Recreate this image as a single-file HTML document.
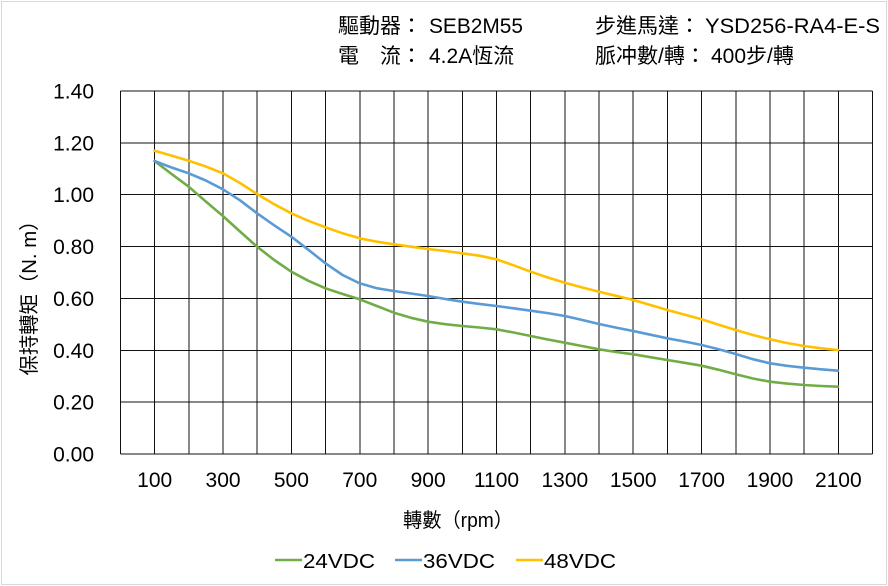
<!DOCTYPE html>
<html>
<head>
<meta charset="utf-8">
<style>
html,body{margin:0;padding:0;background:#fff;}
svg{display:block;}
.t{font-family:"Liberation Sans","Noto Sans CJK TC",sans-serif;fill:#000;}
</style>
</head>
<body>
<svg width="888" height="586" viewBox="0 0 888 586" xmlns="http://www.w3.org/2000/svg">
<rect x="0" y="0" width="888" height="586" fill="#fff"/>
<rect x="1.5" y="1.5" width="885" height="583" fill="none" stroke="#d9d9d9" stroke-width="1"/>

<!-- header -->
<g class="t" font-size="21">
<text x="338" y="33">驅動器：</text>
<text x="429" y="33" textLength="94" lengthAdjust="spacingAndGlyphs">SEB2M55</text>
<text x="338" y="63">電</text>
<text x="380" y="63">流：</text>
<text x="429" y="63">4.2A恆流</text>
<text x="595" y="33">步進馬達：</text>
<text x="705" y="33" textLength="175" lengthAdjust="spacingAndGlyphs">YSD256-RA4-E-S</text>
<text x="595" y="63">脈冲數/轉：</text>
<text x="711" y="63">400步/轉</text>
</g>

<!-- grid -->
<g stroke="#111" stroke-width="1" shape-rendering="crispEdges">
<line x1="120.5" y1="91" x2="872.5" y2="91"/>
<line x1="120.5" y1="142.86" x2="872.5" y2="142.86"/>
<line x1="120.5" y1="194.71" x2="872.5" y2="194.71"/>
<line x1="120.5" y1="246.57" x2="872.5" y2="246.57"/>
<line x1="120.5" y1="298.43" x2="872.5" y2="298.43"/>
<line x1="120.5" y1="350.29" x2="872.5" y2="350.29"/>
<line x1="120.5" y1="402.14" x2="872.5" y2="402.14"/>
<line x1="120.5" y1="454" x2="872.5" y2="454"/>
<line x1="120.5" y1="91" x2="120.5" y2="454"/>
<line x1="154.68" y1="91" x2="154.68" y2="454"/>
<line x1="188.86" y1="91" x2="188.86" y2="454"/>
<line x1="223.05" y1="91" x2="223.05" y2="454"/>
<line x1="257.23" y1="91" x2="257.23" y2="454"/>
<line x1="291.41" y1="91" x2="291.41" y2="454"/>
<line x1="325.59" y1="91" x2="325.59" y2="454"/>
<line x1="359.77" y1="91" x2="359.77" y2="454"/>
<line x1="393.95" y1="91" x2="393.95" y2="454"/>
<line x1="428.14" y1="91" x2="428.14" y2="454"/>
<line x1="462.32" y1="91" x2="462.32" y2="454"/>
<line x1="496.5" y1="91" x2="496.5" y2="454"/>
<line x1="530.68" y1="91" x2="530.68" y2="454"/>
<line x1="564.86" y1="91" x2="564.86" y2="454"/>
<line x1="599.05" y1="91" x2="599.05" y2="454"/>
<line x1="633.23" y1="91" x2="633.23" y2="454"/>
<line x1="667.41" y1="91" x2="667.41" y2="454"/>
<line x1="701.59" y1="91" x2="701.59" y2="454"/>
<line x1="735.77" y1="91" x2="735.77" y2="454"/>
<line x1="769.95" y1="91" x2="769.95" y2="454"/>
<line x1="804.14" y1="91" x2="804.14" y2="454"/>
<line x1="838.32" y1="91" x2="838.32" y2="454"/>
<line x1="872.5" y1="91" x2="872.5" y2="454"/>
</g>

<!-- y tick labels -->
<g class="t" font-size="21" text-anchor="end">
<text x="94" y="98.5">1.40</text>
<text x="94" y="150.4">1.20</text>
<text x="94" y="202.2">1.00</text>
<text x="94" y="254.1">0.80</text>
<text x="94" y="305.9">0.60</text>
<text x="94" y="357.8">0.40</text>
<text x="94" y="409.6">0.20</text>
<text x="94" y="461.5">0.00</text>
</g>

<!-- x tick labels -->
<g class="t" font-size="21" text-anchor="middle">
<text x="154.68" y="487">100</text>
<text x="223.05" y="487">300</text>
<text x="291.41" y="487">500</text>
<text x="359.77" y="487">700</text>
<text x="428.14" y="487">900</text>
<text x="496.5" y="487">1100</text>
<text x="564.86" y="487">1300</text>
<text x="633.23" y="487">1500</text>
<text x="701.59" y="487">1700</text>
<text x="769.95" y="487">1900</text>
<text x="838.32" y="487">2100</text>
</g>

<!-- axis titles -->
<text class="t" font-size="20" x="403" y="527" textLength="110" lengthAdjust="spacingAndGlyphs">轉數（rpm）</text>
<text class="t" font-size="20" transform="translate(36,293) rotate(-90)" text-anchor="middle" textLength="165" lengthAdjust="spacingAndGlyphs">保持轉矩（N. m）</text>

<!-- series -->
<g fill="none" stroke-width="2.6" stroke-linejoin="round" stroke-linecap="round">
<polyline stroke="#70AD47" points="154.5,161 171.6,174 188.7,186.7 205.8,201.5 222.9,216 240,231.5 257.1,246.7 274.2,260 291.3,271.7 308.4,280.8 325.5,288.3 342.6,294 359.6,299.3 376.8,306 393.9,312.7 411,317.8 428,321.7 445.2,324.2 462.3,326 479.4,327.5 496.5,329.3 513.6,332.5 530.7,336 547.8,339.5 564.8,342.7 581.9,346 599,349.3 616.1,352 633.2,354.3 650.3,357.2 667.4,360 684.5,362.8 701.6,365.7 718.7,369.8 735.7,374.3 752.9,378.5 770,381.7 787,383.6 804,385 821,386 838,386.7"/>
<polyline stroke="#5B9BD5" points="154.5,161 171.6,167.5 188.7,173.3 205.8,180.5 222.9,189.3 240,200.3 257.1,213.3 274.2,225.3 291.3,236.7 308.4,249.8 325.5,263.3 342.6,275 359.6,283.3 376.8,288.2 393.9,291 411,293.5 428,296 445.2,299 462.3,301.7 479.4,303.9 496.5,306 513.6,308.3 530.7,310.7 547.8,313.1 564.8,316 581.9,319.9 599,324 616.1,327.6 633.2,331 650.3,334.7 667.4,338.3 684.5,341.5 701.6,345 718.7,349.3 735.7,354 752.9,359.2 770,363.3 787,365.8 804,367.7 821,369.3 838,370.7"/>
<polyline stroke="#FFC000" points="154.5,150.7 171.6,155.6 188.7,160.7 205.8,166.5 222.9,173.3 240,183 257.1,194 274.2,204.2 291.3,213.3 308.4,220.8 325.5,227.3 342.6,233.3 359.6,238.3 376.8,241.7 393.9,244.3 411,246.7 428,249 445.2,251 462.3,253.3 479.4,255.7 496.5,259.3 513.6,265.3 530.7,271.7 547.8,277.5 564.8,282.7 581.9,287.4 599,291.7 616.1,295.8 633.2,300 650.3,305 667.4,310 684.5,314.6 701.6,319.3 718.7,324.7 735.7,330 752.9,335 770,339.3 787,343 804,346 821,348.3 838,350"/>
</g>

<!-- legend -->
<g stroke-width="2.6">
<line x1="275" y1="560" x2="302" y2="560" stroke="#70AD47"/>
<line x1="395" y1="560" x2="422" y2="560" stroke="#5B9BD5"/>
<line x1="516" y1="560" x2="543" y2="560" stroke="#FFC000"/>
</g>
<g class="t" font-size="20">
<text x="303" y="568" textLength="72" lengthAdjust="spacingAndGlyphs">24VDC</text>
<text x="423" y="568" textLength="72" lengthAdjust="spacingAndGlyphs">36VDC</text>
<text x="544" y="568" textLength="72" lengthAdjust="spacingAndGlyphs">48VDC</text>
</g>
</svg>
</body>
</html>
